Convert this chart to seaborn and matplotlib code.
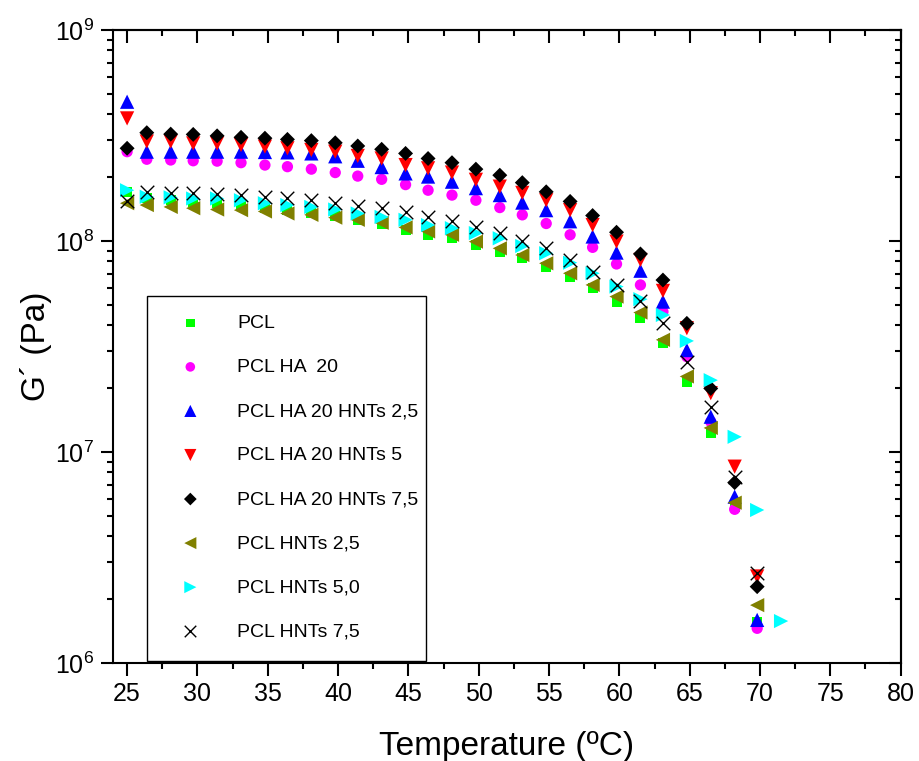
import matplotlib
matplotlib.use('Agg')
import matplotlib.pyplot as plt
import numpy as np
import pandas as pd
import seaborn as sns
from matplotlib.patches import Rectangle
from matplotlib.ticker import LogLocator, MultipleLocator, NullFormatter

########
# Data #
########

# temperature steps (ºC), shared by all samples
temperature = [25.0, 26.4, 28.1, 29.7, 31.4, 33.1, 34.8, 36.4, 38.1, 39.8,
               41.4, 43.1, 44.8, 46.4, 48.1, 49.8, 51.5, 53.1, 54.8, 56.5,
               58.1, 59.8, 61.5, 63.1, 64.8, 66.5, 68.2, 69.8]
# PCL HNTs 5,0 has one extra point at the end
temperature_hnts50 = temperature + [71.5]

# storage modulus G' (Pa)
pcl = [1.71e8, 1.59e8, 1.56e8, 1.53e8, 1.51e8, 1.48e8, 1.44e8, 1.40e8, 1.36e8, 1.31e8,
       1.26e8, 1.21e8, 1.13e8, 1.07e8, 1.03e8, 9.57e7, 8.90e7, 8.28e7, 7.56e7, 6.78e7,
       5.97e7, 5.16e7, 4.30e7, 3.27e7, 2.15e7, 1.23e7, 5.51e6, 1.57e6]
pcl_ha20 = [2.65e8, 2.44e8, 2.42e8, 2.40e8, 2.39e8, 2.35e8, 2.29e8, 2.25e8, 2.19e8, 2.11e8,
            2.03e8, 1.96e8, 1.85e8, 1.74e8, 1.65e8, 1.56e8, 1.44e8, 1.33e8, 1.21e8, 1.07e8,
            9.33e7, 7.78e7, 6.19e7, 4.62e7, 2.83e7, 1.39e7, 5.35e6, 1.46e6]
pcl_ha20_hnts25 = [4.57e8, 2.65e8, 2.65e8, 2.65e8, 2.65e8, 2.65e8, 2.64e8, 2.63e8, 2.60e8, 2.52e8,
                   2.40e8, 2.24e8, 2.09e8, 2.02e8, 1.91e8, 1.78e8, 1.65e8, 1.52e8, 1.40e8, 1.24e8,
                   1.05e8, 8.81e7, 7.23e7, 5.16e7, 3.04e7, 1.47e7, 6.14e6, 1.60e6]
pcl_ha20_hnts5 = [3.81e8, 2.96e8, 2.96e8, 2.90e8, 2.90e8, 2.85e8, 2.80e8, 2.75e8, 2.70e8, 2.65e8,
                  2.53e8, 2.46e8, 2.29e8, 2.21e8, 2.11e8, 1.95e8, 1.81e8, 1.69e8, 1.56e8, 1.40e8,
                  1.19e8, 9.93e7, 8.13e7, 5.80e7, 3.86e7, 1.90e7, 8.52e6, 2.57e6]
pcl_ha20_hnts75 = [2.75e8, 3.26e8, 3.21e8, 3.20e8, 3.15e8, 3.10e8, 3.07e8, 3.03e8, 2.99e8, 2.92e8,
                   2.82e8, 2.72e8, 2.60e8, 2.46e8, 2.35e8, 2.19e8, 2.05e8, 1.89e8, 1.71e8, 1.54e8,
                   1.32e8, 1.10e8, 8.68e7, 6.53e7, 4.07e7, 2.00e7, 7.16e6, 2.30e6]
pcl_hnts25 = [1.51e8, 1.48e8, 1.45e8, 1.43e8, 1.41e8, 1.40e8, 1.38e8, 1.35e8, 1.33e8, 1.29e8,
              1.26e8, 1.22e8, 1.16e8, 1.11e8, 1.07e8, 9.93e7, 9.23e7, 8.58e7, 7.84e7, 7.03e7,
              6.19e7, 5.45e7, 4.58e7, 3.40e7, 2.28e7, 1.30e7, 5.75e6, 1.88e6]
pcl_hnts50 = [1.74e8, 1.62e8, 1.61e8, 1.59e8, 1.59e8, 1.56e8, 1.51e8, 1.48e8, 1.45e8, 1.41e8,
              1.35e8, 1.30e8, 1.26e8, 1.19e8, 1.15e8, 1.09e8, 1.03e8, 9.47e7, 8.75e7, 7.89e7,
              7.03e7, 6.08e7, 5.30e7, 4.46e7, 3.36e7, 2.19e7, 1.18e7, 5.31e6, 1.58e6]
pcl_hnts75 = [1.54e8, 1.71e8, 1.69e8, 1.68e8, 1.67e8, 1.65e8, 1.62e8, 1.59e8, 1.56e8, 1.52e8,
              1.47e8, 1.43e8, 1.37e8, 1.30e8, 1.24e8, 1.17e8, 1.09e8, 1.00e8, 9.23e7, 8.13e7,
              7.15e7, 6.19e7, 5.20e7, 4.10e7, 2.68e7, 1.64e7, 7.64e6, 2.66e6]

samples = ['PCL', 'PCL HA  20', 'PCL HA 20 HNTs 2,5', 'PCL HA 20 HNTs 5',
           'PCL HA 20 HNTs 7,5', 'PCL HNTs 2,5', 'PCL HNTs 5,0', 'PCL HNTs 7,5']
values = [pcl, pcl_ha20, pcl_ha20_hnts25, pcl_ha20_hnts5,
          pcl_ha20_hnts75, pcl_hnts25, pcl_hnts50, pcl_hnts75]
temps = [temperature] * 6 + [temperature_hnts50, temperature]

frames = []
for name, t, g in zip(samples, temps, values):
    frames.append(pd.DataFrame({'Temperature': t, 'G': g, 'Sample': name}))
df = pd.concat(frames, ignore_index=True)

# marker style per sample (Origin look)
markers = ['s', 'o', '^', 'v', 'D', '<', '>', 'x']
colors = ['#00ff00', '#ff00ff', '#0000ff', '#ff0000', '#000000', '#808000', '#00ffff', '#000000']
sizes = [52, 66, 105, 105, 58, 105, 105, 95]

########
# Plot #
########

sns.set_style('ticks')
plt.rcParams['font.family'] = ['Liberation Sans', 'DejaVu Sans']
plt.rcParams['mathtext.fontset'] = 'custom'
plt.rcParams['mathtext.rm'] = 'Liberation Sans'
plt.rcParams['mathtext.default'] = 'regular'
plt.rcParams['text.color'] = 'black'
plt.rcParams['axes.labelcolor'] = 'black'
plt.rcParams['xtick.color'] = 'black'
plt.rcParams['ytick.color'] = 'black'

fig, ax = plt.subplots(figsize=(9.19, 7.61), dpi=100)
fig.subplots_adjust(left=0.123, right=0.980, top=0.9606, bottom=0.1288)

for i, name in enumerate(samples):
    sub = df[df['Sample'] == name]
    if markers[i] == 'x':
        sns.scatterplot(data=sub, x='Temperature', y='G', marker='x', color=colors[i],
                        s=sizes[i], linewidth=1.0, label=name, ax=ax, zorder=3 + i)
    else:
        sns.scatterplot(data=sub, x='Temperature', y='G', marker=markers[i], color=colors[i],
                        s=sizes[i], linewidth=0, edgecolor='none', label=name, ax=ax, zorder=3 + i)

ax.set_yscale('log')
ax.set_xlim(24, 80)
ax.set_ylim(1e6, 1e9)

ax.xaxis.set_major_locator(MultipleLocator(5))
ax.xaxis.set_minor_locator(MultipleLocator(2.5))
ax.yaxis.set_major_locator(LogLocator(base=10))
ax.yaxis.set_minor_locator(LogLocator(base=10, subs=np.arange(2, 10)))
ax.yaxis.set_minor_formatter(NullFormatter())

ax.tick_params(which='major', direction='out', length=9, width=1.5, labelsize=18, pad=5,
               color='black', labelcolor='black')
ax.tick_params(which='minor', direction='out', length=4.5, width=1.5, color='black')
for sp in ax.spines.values():
    sp.set_visible(True)
    sp.set_linewidth(1.5)
    sp.set_color('black')

# mirrored ticks on top and right, pointing inward
top = ax.secondary_xaxis('top')
top.xaxis.set_major_locator(MultipleLocator(5))
top.xaxis.set_minor_locator(MultipleLocator(2.5))
top.tick_params(which='major', direction='in', length=9, width=1.5, labeltop=False)
top.tick_params(which='minor', direction='in', length=4.5, width=1.5)
top.spines['top'].set_linewidth(1.5)

right = ax.secondary_yaxis('right')
right.yaxis.set_major_locator(LogLocator(base=10))
right.yaxis.set_minor_locator(LogLocator(base=10, subs=np.arange(2, 10)))
right.yaxis.set_minor_formatter(NullFormatter())
right.tick_params(which='major', direction='in', length=9, width=1.5, labelright=False)
right.tick_params(which='minor', direction='in', length=4.5, width=1.5)
right.spines['right'].set_linewidth(1.5)

ax.set_xlabel('Temperature (ºC)', fontsize=24, labelpad=18)
ax.set_ylabel('G´ (Pa)', fontsize=24, labelpad=2)

# legend frame drawn as its own box (Origin style, tall and narrow)
ax.add_patch(Rectangle((0.0432, 0.0032), 0.3542, 0.5766, transform=ax.transAxes,
                       facecolor='white', edgecolor='black', linewidth=1.0, zorder=20))
leg = ax.legend(loc='upper left', bbox_to_anchor=(0.0432, 0.58), frameon=False,
                fontsize=14, labelspacing=1.36, borderpad=0.95, handlelength=2.55,
                handletextpad=1.14, markerscale=0.85, borderaxespad=0)
leg.set_zorder(21)

fig.savefig('out.png', dpi=100)
